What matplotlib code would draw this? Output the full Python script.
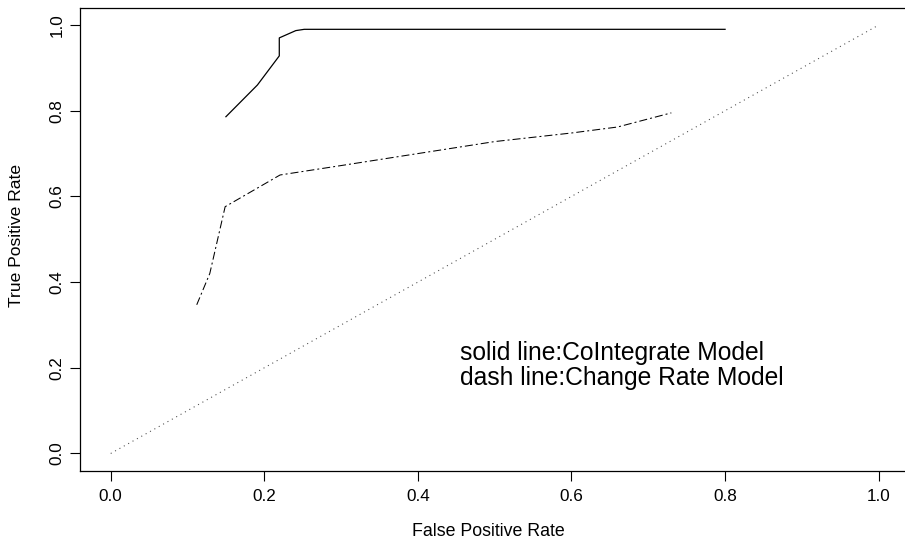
import matplotlib
matplotlib.use("Agg")
import matplotlib.pyplot as plt

plt.rcParams['font.family'] = ['Liberation Sans', 'DejaVu Sans']

# curva ROC modello di cointegrazione (linea continua)
fpr_coint = [0.150, 0.191, 0.2195, 0.2195, 0.241, 0.252, 0.80]
tpr_coint = [0.786, 0.860, 0.928, 0.970, 0.987, 0.990, 0.990]

# curva ROC modello tasso di variazione (linea tratteggiata)
fpr_rate = [0.112, 0.129, 0.149, 0.2205, 0.30, 0.40, 0.50, 0.60, 0.66, 0.73]
tpr_rate = [0.347, 0.420, 0.576, 0.650, 0.672, 0.700, 0.728, 0.748, 0.762, 0.795]

ticks = [0.0, 0.2, 0.4, 0.6, 0.8, 1.0]
tick_labels = ["0.0", "0.2", "0.4", "0.6", "0.8", "1.0"]

W, H = 905, 542
fig = plt.figure(figsize=(W / 100, H / 100), dpi=100)
ax = fig.add_axes([80 / W, 71.4 / H, 829.4 / W, 462.7 / H])

ax.plot(fpr_coint, tpr_coint, color='black', lw=0.9)
ax.plot(fpr_rate, tpr_rate, color='black', lw=0.75, ls=(0, (7.7, 2.9, 1.9, 2.9)))
ax.plot([0, 1], [0, 1], color='#444444', lw=0.75, ls=(0, (1, 3.8)))

ax.text(0.653, 0.235, "solid line:CoIntegrate Model", fontsize=17.7, ha='center', va='center')
ax.text(0.665, 0.176, "dash line:Change Rate Model", fontsize=17.7, ha='center', va='center')

ax.set_xlim(-0.04, 1.04)
ax.set_ylim(-0.04, 1.04)
ax.set_xticks(ticks)
ax.set_xticklabels(tick_labels)
ax.set_yticks(ticks)
ax.set_yticklabels(tick_labels, rotation=90, va='center')
ax.tick_params(length=7, width=0.8, labelsize=12.3, pad=6)
ax.tick_params(axis='y', pad=4)
for s in ax.spines.values():
    s.set_linewidth(0.9)

fig.text(488 / W, 1 - 532 / H, "False Positive Rate", fontsize=12.8, ha='center', va='center')
fig.text(16.5 / W, 1 - 235 / H, "True Positive Rate", fontsize=12.6, ha='center', va='center', rotation=90)

fig.savefig("out.png", dpi=100)
